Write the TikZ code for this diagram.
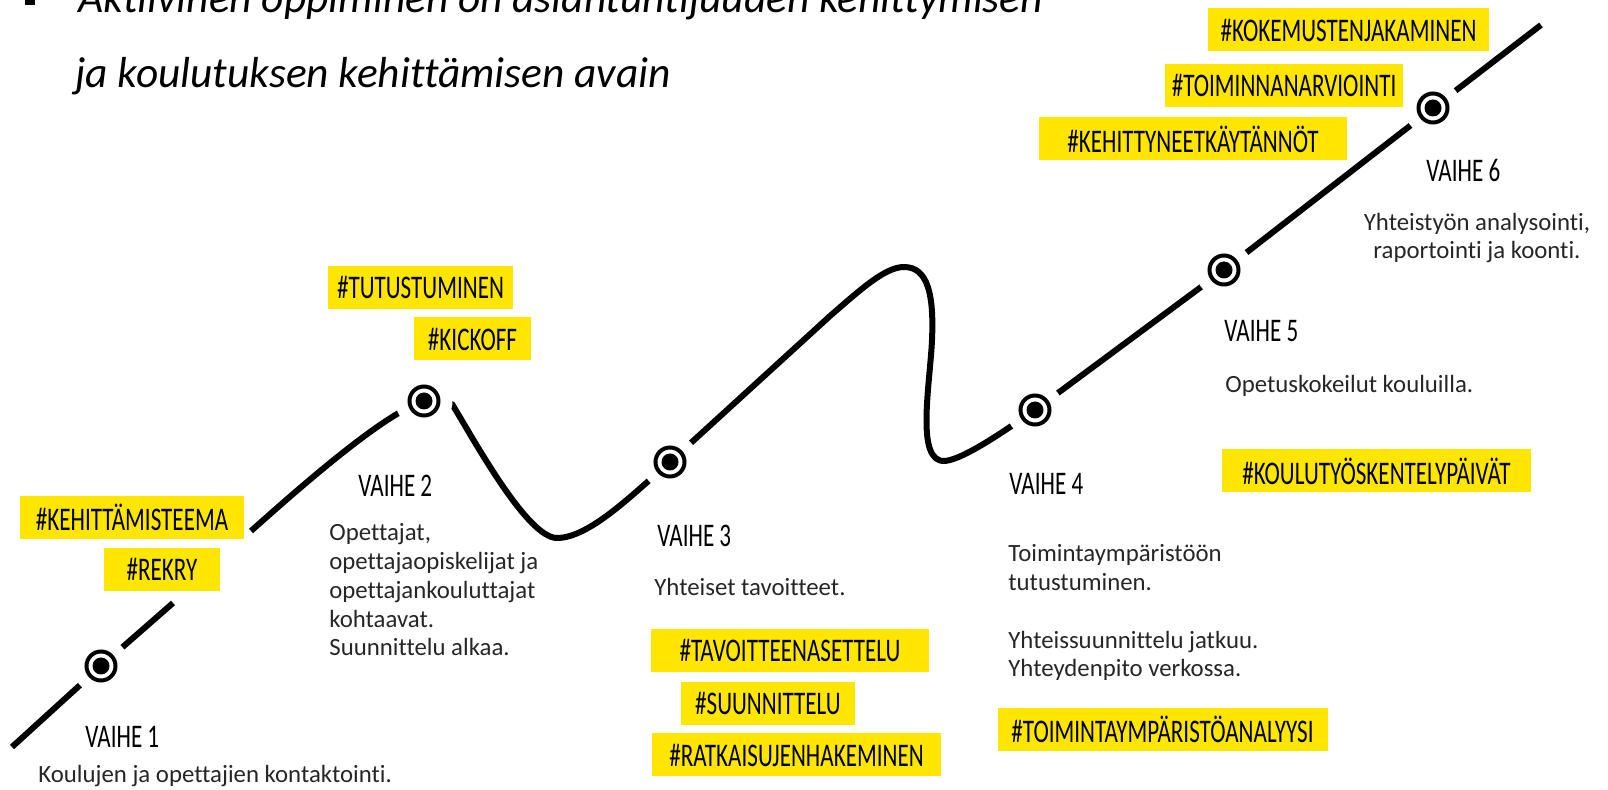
\documentclass[tikz,border=0pt]{standalone}
\usepackage{fontspec}
\setmainfont{Carlito}[Ligatures=NoCommon]
\usepackage{graphicx}
\usetikzlibrary{backgrounds}
\definecolor{tagyellow}{RGB}{255, 230, 0}
\definecolor{bodygray}{RGB}{38, 38, 38}
\newcommand{\hand}[1]{\scalebox{0.7}[1]{#1}}

\begin{document}
\begin{tikzpicture}[x=0.5pt, y=-0.5pt,
                title/.style={anchor=base west,
                inner sep=0pt,
                font=\fontsize{21.7}{26}\selectfont\itshape},
                stage/.style={circle,
                fill=white,
                minimum size=28.5pt,
                inner sep=0pt,
                path picture={
                    \fill[black] (path picture bounding box.center) circle[radius=4.25pt];
                    \draw[black, line width=2pt] (path picture bounding box.center) circle[radius=7.25pt];}},
                tag/.style={fill=tagyellow,
                inner sep=0pt,
                minimum height=21.5pt,
                font=\fontsize{16.5}{18}\selectfont},
                phase/.style={anchor=base west,
                inner sep=0pt,
                font=\fontsize{16.5}{18}\selectfont},
                body/.style={anchor=base west,
                inner sep=0pt,
                align=left,
                text=bodygray,
                font=\fontsize{12.4}{14.4}\selectfont},
                road/.style={line width=3pt, line join=round}]
                \useasboundingbox (0,0) rectangle (1608,790);
                \clip (0,0) rectangle (1608,790);
                % otsikko
                \node[fill, minimum size=5pt, inner sep=0pt] (bullet) at (30,0) {};
                \node[title] (title1) at (78,13)
                    {Aktiivinen oppiminen on asiantuntijuuden kehittymisen};
                \node[title] (title2) at (75,88)
                    {ja koulutuksen kehittämisen avain};
                % vaiheet
                \node[stage] (s1) at (101,666) {};
                \node[stage] (s2) at (424,401) {};
                \node[stage] (s3) at (670,462) {};
                \node[stage] (s4) at (1035,410) {};
                \node[stage] (s5) at (1224,270) {};
                \node[stage] (s6) at (1433,108) {};
                \begin{pgfonlayer}{background}
                \draw[road] (12,747) -- (s1.center) -- (173,603)
                    (251,531) .. controls (306,482) and (385,413) .. (s2.center)
                    -- (452,404) .. controls (473,438) and (527,538) .. (557,538)
                    .. controls (590,538) and (635,492) .. (s3.center)
                    -- (830,316) .. controls (860,290) and (885,267) .. (904,267)
                    .. controls (928,267) and (934,295) .. (932,340)
                    .. controls (930,385) and (915,463) .. (945,461)
                    .. controls (965,459) and (1010,427) .. (s4.center)
                    -- (s5.center) -- (s6.center) -- (1541,25);
                \end{pgfonlayer}
                % otsikot ja kuvaukset (base = viimeinen rivi)
                \node[phase] (v1) at (85,748) {\hand{VAIHE 1}};
                \node[body] (d1) at (38,783) {Koulujen ja opettajien kontaktointi.};
                \node[phase] (v2) at (358,497) {\hand{VAIHE 2}};
                \node[body] (d2) at (329,656)
                    {Opettajat,\\opettajaopiskelijat ja\\opettajankouluttajat\\kohtaavat.\\Suunnittelu alkaa.};
                \node[phase] (v3) at (657,547) {\hand{VAIHE 3}};
                \node[body] (d3) at (654,596) {Yhteiset tavoitteet.};
                \node[phase] (v4) at (1009,495) {\hand{VAIHE 4}};
                \node[body] (d4) at (1008,677)
                    {Toimintaympäristöön\\tutustuminen.\\[14.4pt]Yhteissuunnittelu jatkuu.\\Yhteydenpito verkossa.};
                \node[phase] (v5) at (1224,342) {\hand{VAIHE 5}};
                \node[body] (d5) at (1225,393) {Opetuskokeilut kouluilla.};
                \node[phase] (v6) at (1426,182) {\hand{VAIHE 6}};
                \node[body, anchor=base, align=center] (d6) at (1477,259)
                    {Yhteistyön analysointi,\\raportointi ja koonti.};
                % tunnisteet
                \node[tag, minimum width=112pt] (kehteema) at (132,517.5) {\hand{\#KEHITTÄMISTEEMA}};
                \node[tag, minimum width=58pt] (rekry) at (162,569.5) {\hand{\#REKRY}};
                \node[tag, minimum width=92.5pt] (tutust) at (420.5,287.5) {\hand{\#TUTUSTUMINEN}};
                \node[tag, minimum width=58.5pt] (kickoff) at (472.5,339) {\hand{\#KICKOFF}};
                \node[tag, minimum width=139pt] (tavoite) at (790,650.5) {\hand{\#TAVOITTEENASETTELU}};
                \node[tag, minimum width=87pt] (suunn) at (768,703.5) {\hand{\#SUUNNITTELU}};
                \node[tag, minimum width=144.5pt] (ratkaisu) at (796.5,755) {\hand{\#RATKAISUJENHAKEMINEN}};
                \node[tag, minimum width=165pt] (analyysi) at (1162.5,729.3) {\hand{\#TOIMINTAYMPÄRISTÖANALYYSI}};
                \node[tag, minimum width=154.5pt] (paivat) at (1376.4,471) {\hand{\#KOULUTYÖSKENTELYPÄIVÄT}};
                \node[tag, minimum width=140.5pt] (jakaminen) at (1348.5,30) {\hand{\#KOKEMUSTENJAKAMINEN}};
                \node[tag, minimum width=119pt] (arviointi) at (1284,85.3) {\hand{\#TOIMINNANARVIOINTI}};
                \node[tag, minimum width=154pt] (kaytannot) at (1193,139) {\hand{\#KEHITTYNEETKÄYTÄNNÖT}};
            \end{tikzpicture}
\end{document}
